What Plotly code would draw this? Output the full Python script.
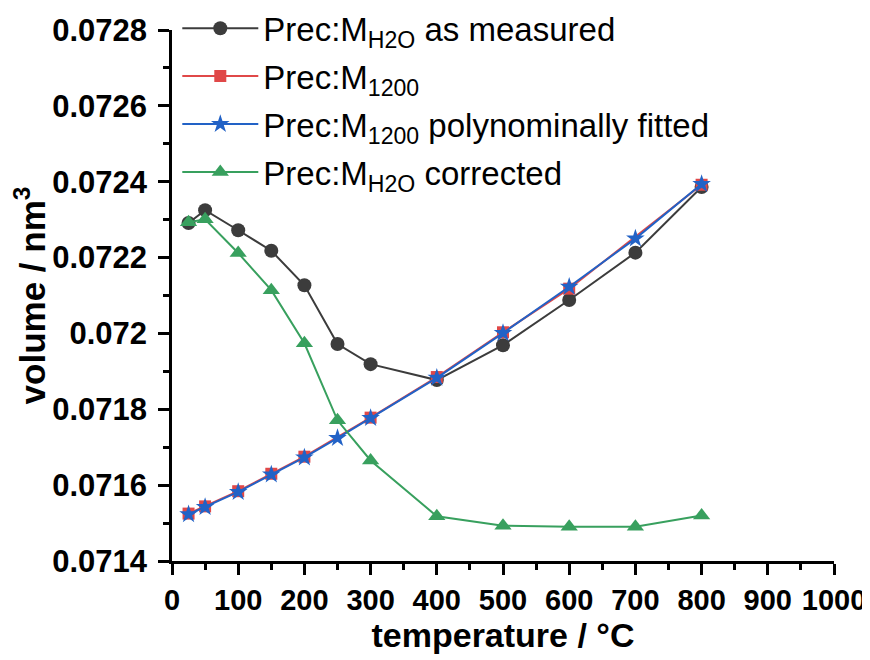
import plotly.graph_objects as go

# temperatures (°C)
t_all = [25, 50, 100, 150, 200, 250, 300, 400, 500, 600, 700, 800]
t_red = [25, 50, 100, 150, 200, 300, 400, 500, 600, 800]

measured = [0.072291, 0.072325, 0.072272, 0.072218, 0.072127, 0.071972,
            0.071919, 0.071877, 0.071969, 0.072088, 0.072213, 0.072386]
m1200 = [0.071525, 0.071544, 0.071584, 0.071630, 0.071675, 0.071778,
         0.071885, 0.072003, 0.072118, 0.072392]
fitted = [0.071523, 0.071542, 0.071582, 0.071628, 0.071673, 0.071724,
          0.071777, 0.071883, 0.072001, 0.072123, 0.072250, 0.072394]
corrected = [0.072293, 0.072301, 0.072212, 0.072114, 0.071974, 0.071771,
             0.071665, 0.071518, 0.071493, 0.071490, 0.071490, 0.071520]

y_tickvals = [0.0714, 0.0716, 0.0718, 0.0720, 0.0722, 0.0724, 0.0726, 0.0728]
y_ticktext = ["0.0714", "0.0716", "0.0718", "0.072", "0.0722", "0.0724", "0.0726", "0.0728"]
x_tickvals = [0, 100, 200, 300, 400, 500, 600, 700, 800, 900, 1000]

FONT = "Arial, Liberation Sans, sans-serif"

fig = go.Figure()
fig.add_trace(go.Scatter(x=t_all, y=measured, mode="lines+markers",
                         name="Prec:M<sub>H2O</sub> as measured", legendgroup="a",
                         line=dict(color="#3c3c3c", width=2),
                         marker=dict(symbol="circle", size=14, color="#3c3c3c")))
fig.add_trace(go.Scatter(x=t_red, y=m1200, mode="lines+markers",
                         name="Prec:M<sub>1200</sub>", legendgroup="b",
                         line=dict(color="#e04848", width=2),
                         marker=dict(symbol="square", size=12, color="#e04848")))
fig.add_trace(go.Scatter(x=t_all, y=fitted, mode="lines+markers",
                         name="Prec:M<sub>1200</sub> polynominally fitted", legendgroup="c",
                         line=dict(color="#2262c6", width=2),
                         marker=dict(symbol="star", size=14, color="#2262c6")))
fig.add_trace(go.Scatter(x=t_all, y=corrected, mode="lines+markers",
                         name="Prec:M<sub>H2O</sub> corrected", legendgroup="d",
                         line=dict(color="#38a05e", width=2),
                         marker=dict(symbol="triangle-up", size=15, color="#38a05e")))

axis_common = dict(showline=True, linecolor="black", linewidth=2.5,
                   ticks="outside", ticklen=11, tickwidth=2.5, tickcolor="black",
                   showgrid=False, zeroline=False, mirror=False)

fig.update_xaxes(range=[0, 1000], tickmode="array", tickvals=x_tickvals,
                 tickfont=dict(family=FONT, size=29, color="black", weight="bold"),
                 minor=dict(ticks="outside", ticklen=6, tickwidth=2.5, tickcolor="black", dtick=50, tick0=0),
                 title=dict(text="temperature / °C", standoff=9,
                            font=dict(family=FONT, size=34, color="black", weight="bold")),
                 **axis_common)
fig.update_yaxes(range=[0.0714, 0.0728], tickmode="array", tickvals=y_tickvals, ticktext=y_ticktext,
                 tickfont=dict(family=FONT, size=31, color="black", weight="bold"),
                 ticklabelstandoff=5,
                 minor=dict(ticks="outside", ticklen=6, tickwidth=2.5, tickcolor="black", dtick=0.0001, tick0=0.0714),
                 title=dict(text="volume / nm<sup>3</sup>", standoff=2,
                            font=dict(family=FONT, size=35, color="black", weight="bold")),
                 **axis_common)

fig.update_layout(
    width=870, height=660,
    margin=dict(l=164, r=44, t=22, b=107, autoexpand=False),
    plot_bgcolor="white", paper_bgcolor="white",
    legend=dict(x=0.008, y=1.056, xanchor="left", yanchor="top",
                bgcolor="rgba(0,0,0,0)", tracegroupgap=2, itemwidth=76,
                font=dict(family=FONT, size=33, color="black")),
)

fig.write_html("out.html")
